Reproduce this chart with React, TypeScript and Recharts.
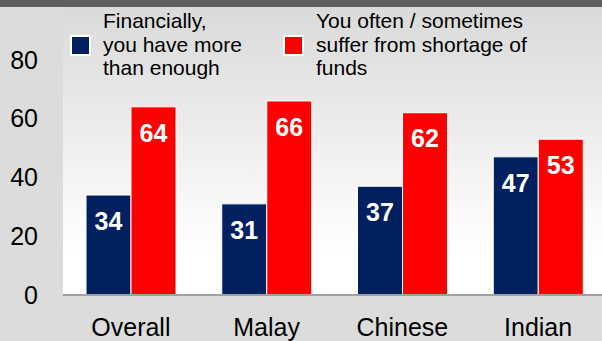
import { BarChart, Bar, XAxis, YAxis, CartesianGrid, Legend, LabelList } from "recharts";

const categories = ["Overall", "Malay", "Chinese", "Indian"];
const moreThanEnough = [34, 31, 37, 47];
const shortageOfFunds = [64, 66, 62, 53];
const yTicks = [0, 20, 40, 60, 80];
const legendLines = [
  ["Financially,", "you have more", "than enough"],
  ["You often / sometimes", "suffer from shortage of", "funds"],
];

const NAVY = "#002060";
const RED = "#ff0000";

const data = categories.map((name, i) => ({
  name,
  more: moreThanEnough[i],
  shortage: shortageOfFunds[i],
}));

const renderLegend = (props: any) => {
  const payload = props.payload || [];
  return (
    <div style={{ position: "relative", width: 520, height: 80 }}>
      {payload.map((entry: any, i: number) => (
        <div
          key={entry.value}
          style={{ position: "absolute", left: i === 0 ? 0 : 213, top: 0, display: "flex" }}
        >
          <div
            style={{
              width: 17,
              height: 17,
              background: entry.color,
              border: "2px solid #fff",
              marginTop: 26,
            }}
          />
          <div style={{ marginLeft: 12, fontSize: 21, lineHeight: "23.5px", color: "#000" }}>
            {legendLines[i].map((l) => (
              <div key={l}>{l}</div>
            ))}
          </div>
        </div>
      ))}
    </div>
  );
};

export default function App() {
  return (
    <div
      style={{
        position: "absolute",
        left: 0,
        top: 0,
        width: 602,
        height: 341,
        overflow: "hidden",
        background: "#dcdcdc",
        fontFamily: "'Liberation Sans', Arial, sans-serif",
      }}
    >
      <BarChart
        width={606}
        height={341}
        data={data}
        margin={{ top: 1, right: 0, left: 0, bottom: 0 }}
        barCategoryGap={23}
        barGap={0}
      >
        <defs>
          <linearGradient id="plotBg" x1="0" y1="0" x2="0" y2="1">
            <stop offset="0%" stopColor="#d9d9d9" />
            <stop offset="85%" stopColor="#ffffff" />
            <stop offset="100%" stopColor="#ffffff" />
          </linearGradient>
        </defs>
        <CartesianGrid horizontal={false} vertical={false} fill="url(#plotBg)" stroke="none" />
        <XAxis
          dataKey="name"
          interval={0}
          tickLine={false}
          axisLine={{ stroke: "#a0a0a0", strokeWidth: 2 }}
          tickSize={0}
          tickMargin={23}
          height={46}
          tick={{ fill: "#000", fontSize: 25, fontFamily: "'Liberation Sans', Arial, sans-serif" }}
        />
        <YAxis
          domain={[0, 100]}
          ticks={yTicks}
          axisLine={false}
          tickLine={false}
          tickSize={0}
          tickMargin={25}
          width={63}
          tick={{ fill: "#000", fontSize: 25, fontFamily: "'Liberation Sans', Arial, sans-serif" }}
        />
        <Legend
          layout="horizontal"
          verticalAlign="middle"
          align="center"
          content={renderLegend}
          wrapperStyle={{ top: 9, left: 70, width: 520, height: 80 }}
        />
        <Bar
          dataKey="more"
          name="Financially, you have more than enough"
          fill={NAVY}
          stroke="#ffffff"
          strokeWidth={1}
          isAnimationActive={false}
        >
          <LabelList
            dataKey="more"
            position="insideTop"
            offset={17}
            fill="#fff"
            fontSize={25}
            fontWeight="bold"
            fontFamily="'Liberation Sans', Arial, sans-serif"
          />
        </Bar>
        <Bar
          dataKey="shortage"
          name="You often / sometimes suffer from shortage of funds"
          fill={RED}
          stroke="#ffffff"
          strokeWidth={1}
          isAnimationActive={false}
        >
          <LabelList
            dataKey="shortage"
            position="insideTop"
            offset={17}
            fill="#fff"
            fontSize={25}
            fontWeight="bold"
            fontFamily="'Liberation Sans', Arial, sans-serif"
          />
        </Bar>
      </BarChart>
      <div style={{ position: "absolute", left: 0, top: 0, width: 602, height: 7, background: "#5e5e5e" }} />
    </div>
  );
}
